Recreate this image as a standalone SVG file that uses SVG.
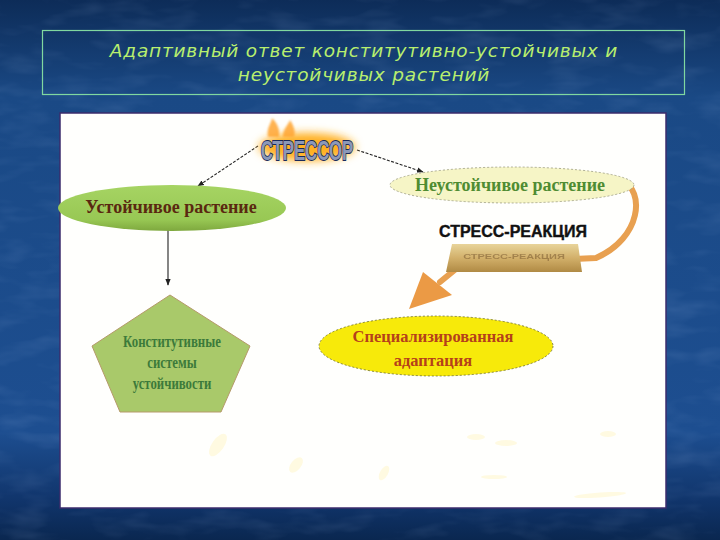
<svg xmlns="http://www.w3.org/2000/svg" width="720" height="540" viewBox="0 0 720 540">
<defs>
<linearGradient id="bg" x1="0" y1="0" x2="0" y2="1">
<stop offset="0" stop-color="#0d2c58"/>
<stop offset="0.18" stop-color="#1a4985"/>
<stop offset="0.8" stop-color="#1d4e90"/>
<stop offset="0.93" stop-color="#10346a"/>
<stop offset="1" stop-color="#0a2750"/>
</linearGradient>
<filter id="tex" x="0" y="0" width="100%" height="100%">
<feTurbulence type="fractalNoise" baseFrequency="0.02 0.06" numOctaves="3" seed="4"/>
<feColorMatrix type="matrix" values="0 0 0 0 0.55  0 0 0 0 0.7  0 0 0 0 1  0 0 0 1.2 -0.55"/>
</filter>
<filter id="glow" x="-30%" y="-60%" width="160%" height="220%">
<feGaussianBlur stdDeviation="4"/>
</filter>
<filter id="soft" x="-20%" y="-20%" width="140%" height="140%">
<feGaussianBlur stdDeviation="1.2"/>
</filter>
<linearGradient id="green" x1="0" y1="0" x2="0" y2="1">
<stop offset="0" stop-color="#a6d463"/>
<stop offset="0.75" stop-color="#98c854"/>
<stop offset="1" stop-color="#7ea83e"/>
</linearGradient>
<linearGradient id="gold" x1="0" y1="0" x2="0" y2="1">
<stop offset="0" stop-color="#e8d49a"/>
<stop offset="0.5" stop-color="#d2b06a"/>
<stop offset="1" stop-color="#b08a44"/>
</linearGradient>
<marker id="arr" viewBox="0 0 10 10" refX="9" refY="5" markerWidth="6" markerHeight="6" orient="auto">
<path d="M0,1 L10,5 L0,9 z" fill="#222"/>
</marker>
<style>
.title{font-family:"DejaVu Sans",Verdana,sans-serif;font-size:18.5px;font-style:oblique;fill:#b8ef6e;letter-spacing:0.8px}
.srf{font-family:"Liberation Serif","Times New Roman",serif;font-weight:bold}
.conn{fill:none;stroke:#222;stroke-width:1.1}
</style>
</defs>

<rect x="0" y="0" width="720" height="540" fill="url(#bg)"/>
<rect x="0" y="0" width="720" height="540" filter="url(#tex)" opacity="0.18"/>

<g id="title">
<rect x="42.5" y="30.5" width="642" height="64" fill="none" stroke="#80d8a0" stroke-width="1.2"/>
<text class="title" x="364" y="57" text-anchor="middle">Адаптивный ответ конститутивно-устойчивых и</text>
<text class="title" x="364" y="81" text-anchor="middle">неустойчивых растений</text>
</g>

<g id="panel">
<rect x="60" y="113" width="606" height="395" fill="#fffffd" stroke="#3b2c6c" stroke-width="1.5"/>
<g fill="#fff4c0" opacity="0.45">
<ellipse cx="218" cy="445" rx="6" ry="13" transform="rotate(35 218 445)"/>
<ellipse cx="296" cy="465" rx="5" ry="9" transform="rotate(40 296 465)"/>
<ellipse cx="384" cy="473" rx="4" ry="8" transform="rotate(30 384 473)"/>
<ellipse cx="476" cy="437" rx="9" ry="3"/>
<ellipse cx="506" cy="443" rx="11" ry="3"/>
<ellipse cx="608" cy="434" rx="8" ry="3"/>
<ellipse cx="600" cy="495" rx="26" ry="2.5" transform="rotate(-4 600 495)"/>
<ellipse cx="494" cy="477" rx="13" ry="2"/>
</g>
</g>

<g id="connectors">
<path class="conn" d="M258,146 L198,186" stroke-dasharray="3,1.5" marker-end="url(#arr)"/>
<path class="conn" d="M357,150 L423,172" stroke-dasharray="3,1.5" marker-end="url(#arr)"/>
<path class="conn" d="M168,229 L168,285" marker-end="url(#arr)"/>
<path d="M622,181 C645,190 642,238 596,258 L462,264 L440,282" fill="none" stroke="#e8a050" stroke-width="6" stroke-linecap="round" stroke-linejoin="round"/>
<path d="M409,309 L423,272 L452,295 z" fill="#eb9a45"/>
</g>

<g id="stressor">
<ellipse cx="307" cy="147" rx="48" ry="14" fill="#ffb020" filter="url(#glow)"/>
<path d="M268,137 C266,128 272,122 272,118 C278,124 280,130 279,137 z M283,137 C283,128 289,124 290,120 C294,126 296,132 294,137 z" fill="#ffa530" opacity="0.85" filter="url(#soft)"/>
<text x="307" y="159" text-anchor="middle" font-family="'Liberation Sans',Arial,sans-serif" font-weight="bold" font-size="24" fill="#8c98b8" stroke="#1a2a5a" stroke-width="1.6" paint-order="stroke" transform="translate(307 0) scale(0.7 1.15) translate(-307 -20)">СТРЕССОР</text>
</g>

<g id="stable-plant">
<ellipse cx="172" cy="208" rx="114" ry="23" fill="url(#green)"/>
<text class="srf" x="171" y="213" text-anchor="middle" font-size="18" fill="#5a2810">Устойчивое растение</text>
</g>

<g id="unstable-plant">
<ellipse cx="512" cy="185" rx="122" ry="18" fill="#f6f5c6" stroke="#9a9a80" stroke-width="0.8" stroke-dasharray="2,2"/>
<text class="srf" x="510" y="191" text-anchor="middle" font-size="18" fill="#4f8c32">Неустойчивое растение</text>
</g>

<g id="stress-reaction">
<path d="M452,244 L578,244 L582,272 L446,272 z" fill="url(#gold)"/>
<text x="514" y="259" text-anchor="middle" font-family="'Liberation Sans',Arial,sans-serif" font-weight="bold" font-size="11" fill="#7a5a30" opacity="0.55" transform="translate(0 259) scale(1 0.7) translate(0 -259)">СТРЕСС-РЕАКЦИЯ</text>
<text x="513" y="237" text-anchor="middle" font-family="'Liberation Sans',Arial,sans-serif" font-weight="bold" font-size="16" fill="#111" stroke="#111" stroke-width="0.4">СТРЕСС-РЕАКЦИЯ</text>
</g>

<g id="constitutive">
<path d="M170,295 L250,346 L221,412 L120,412 L92,346 z" fill="#a9c96a" stroke="#b59a6a" stroke-width="1"/>
<text class="srf" x="172" y="347" text-anchor="middle" font-size="16" fill="#3c7a3a" transform="translate(172 0) scale(0.8 1) translate(-172 0)">Конститутивные</text>
<text class="srf" x="172" y="368" text-anchor="middle" font-size="16" fill="#3c7a3a" transform="translate(172 0) scale(0.8 1) translate(-172 0)">системы</text>
<text class="srf" x="172" y="389" text-anchor="middle" font-size="16" fill="#3c7a3a" transform="translate(172 0) scale(0.8 1) translate(-172 0)">устойчивости</text>
</g>

<g id="specialized">
<ellipse cx="436" cy="346" rx="117" ry="30" fill="#f7ea0a" stroke="#6a6a30" stroke-width="0.8" stroke-dasharray="2,2"/>
<text class="srf" x="433" y="342" text-anchor="middle" font-size="17.5" fill="#b5401a" transform="translate(433 0) scale(0.94 1) translate(-433 0)">Специализированная</text>
<text class="srf" x="433" y="366" text-anchor="middle" font-size="17.5" fill="#b5401a" transform="translate(433 0) scale(0.94 1) translate(-433 0)">адаптация</text>
</g>
</svg>
